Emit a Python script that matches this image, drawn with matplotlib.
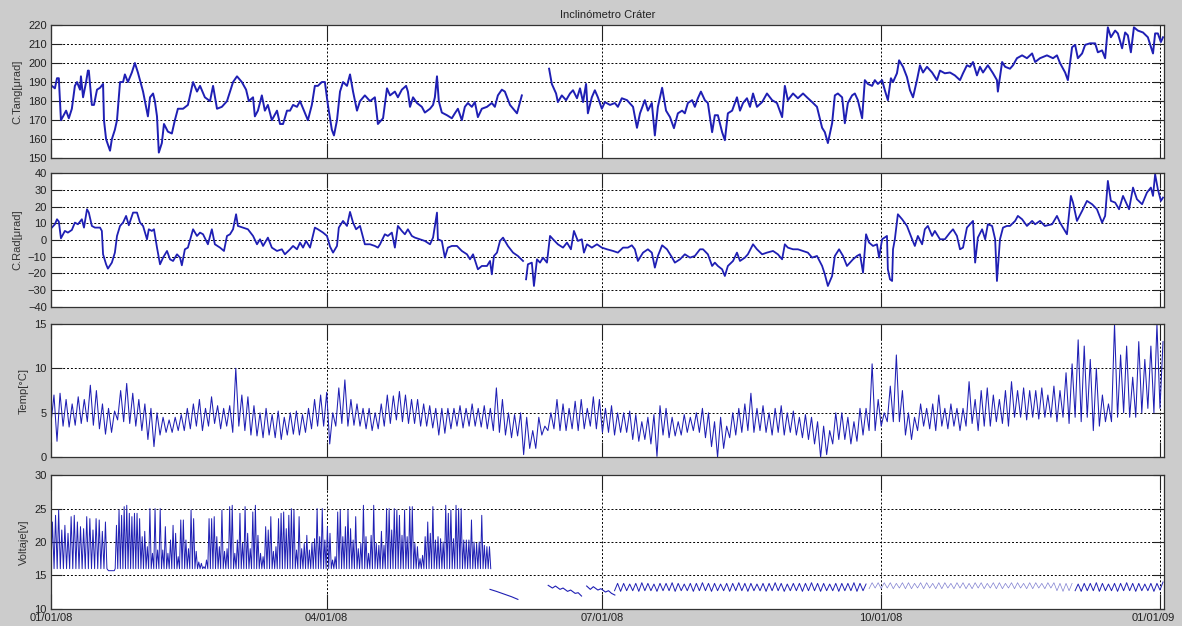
import numpy as np
import matplotlib.pyplot as plt
from matplotlib.transforms import ScaledTranslation

plt.rcParams['font.family'] = ['Liberation Sans', 'DejaVu Sans']

# ---------------------------------------------------------------
# Data (days since 01/01/08)
# ---------------------------------------------------------------
xtick_days = [0, 91, 182, 274, 366]
xtick_labels = ["01/01/08", "04/01/08", "07/01/08", "10/01/08", "01/01/09"]

# C.Tang [urad]
tang_day = [0.3, 1.3, 2, 2.6, 3.3, 4, 5, 5.9, 6.9, 7.9, 8.6, 9.6, 9.9, 10.6, 11.6, 12.2, 12.5, 13.5, 14.2, 15.2,
            16.2, 17.2, 17.5, 18.2, 19.5, 20.1, 21.1, 21.8, 22.8, 23.8, 24.4, 25.4, 26.7, 27.7, 28.7, 30.4, 32, 32.7,
            33.7, 34.3, 35, 35.6, 36.6, 37.3, 38.6, 39.9, 40.9, 41.9, 43.6, 45.2, 46.9, 48.2, 49.2, 50.8, 52.5, 53.5,
            54.8, 56.4, 58.1, 59.1, 60.1, 61.4, 63, 64.4, 65.3, 66.7, 67.3, 68.3, 69.6, 70.6, 71.6, 72.9, 74.6, 75.6,
            76.6, 77.9, 78.9, 79.9, 81.2, 82.2, 83.5, 84.8, 86.1, 87.1, 88.1, 89.4, 90.4, 91.4, 92.7, 93.4, 94.4, 95.4,
            96.4, 97.7, 98.7, 99.7, 101, 102, 103.6, 105.3, 106.9, 107.9, 109.6, 110.9, 111.9, 113.5, 114.5, 115.8,
            117.2, 117.8, 118.5, 119.5, 120.8, 122.4, 123.4, 125.1, 126.1, 126.7, 127.4, 128, 129, 130.7, 132.3, 133.3,
            134.3, 135.6, 136.6, 137.6, 138.9, 139.9, 140.9, 142.2, 143.9, 145.5, 146.5, 147.5, 148.8, 149.8, 151.5,
            153.1, 153.8, 155.4, 160.0,
            164.4, 165.3, 166.7, 167.3, 168.6, 170, 171.3, 172.3, 173.6, 174.6, 175.6, 176.6, 177.2, 178.5, 179.5,
            180.5, 181.8, 182.8, 184.5, 186.1, 187.1, 188.4, 190.1, 192.1, 193.4, 194.4, 196, 197, 198.3, 199.3, 200.3,
            201.7, 203, 204.3, 205.6, 206.9, 208.3, 209.2, 210.2, 211.6, 212.5, 213.5, 214.5, 215.8, 216.8, 218.2,
            219.1, 220.1, 221.5, 222.4, 223.4, 224.8, 226.4, 227.4, 228.4, 229.7, 230.7, 231.7, 233, 234.7, 236.3, 238,
            239.6, 241.3, 242.2, 243.2, 244.9, 246.5, 248.2, 249.5, 251.2, 252.8, 254.5, 255.4, 256.4, 257.8, 258.7,
            259.7, 261.1, 262, 263, 264.4, 265.3, 266.3, 267.7, 268.6, 269.6, 271, 271.9, 272.9, 274.3, 275.2, 276.2,
            277.2, 277.9, 279.2, 279.9, 281.2, 282.5, 283.5, 284.5, 285.8, 286.8, 287.8, 289.1, 290.8, 292.4, 293.4,
            295, 296.7, 298.3, 300, 301, 302.3, 303.3, 304.3, 305.6, 306.6, 307.6, 309.2, 310.9, 312.2, 312.5, 313.9,
            314.9, 316.5, 317.5, 318.8, 320.5, 322.1, 323.8, 324.8, 326.4, 328.7, 330.7, 332, 333, 334.7, 335.6, 337,
            338, 338.9, 340.3, 341.3, 342.9, 344.6, 345.5, 346.9, 347.9, 348.8, 349.8, 351.2, 352.1, 353.5, 354.5,
            355.4, 356.4, 357.4, 358.7, 360.4, 362, 363.7, 364.4, 365.3, 366.3, 367]
tang_val = [188, 186.7, 192, 192, 170, 172, 175, 171, 176, 188, 190, 186, 193, 182, 190, 196, 196, 178, 178, 186,
            187, 189, 170, 160, 154, 160, 165, 170, 190, 190, 194, 190, 195, 200, 195, 185, 172, 182,
            184, 180, 172, 153, 158, 168, 164, 163, 170, 176, 176, 178, 190, 185, 188, 182, 180, 188,
            176, 177, 180, 185, 190, 193, 190, 186, 180, 182, 172, 175, 183, 175, 178, 170, 175, 168,
            168, 175, 175, 178, 177, 180, 175, 170, 178, 188, 188, 190, 190, 178, 165, 162, 170, 185,
            190, 188, 194, 185, 175, 180, 183, 180, 182, 168, 171, 186.7, 183, 185, 182, 186,
            188, 185, 177, 182, 179, 177, 174, 176, 178, 182, 193, 180, 174, 172.6, 171, 173.6,
            176, 170, 177, 179, 177, 179.5, 171.6, 176, 177, 179, 177, 183, 186, 185, 178,
            175, 173.6, 183, np.nan,
            197, 189, 184, 179.5, 183, 180.5, 184, 185.7, 181.5, 186.7, 179.5, 189, 173.6, 182, 185.7,
            182, 176, 179.5, 178, 179, 177, 181.5, 180.5, 177, 166, 173.6, 180.5, 175, 179, 162, 177,
            187, 175, 171.6, 165.8, 173.6, 175, 173.6, 179, 180.5, 177, 181.5, 185, 180.5, 179, 163.7,
            172.6, 172.6, 163.7, 159.5, 173.6, 175, 182, 175, 179, 181.5, 177, 184, 177, 179.5, 184, 180.5,
            179, 171.6, 188, 180.5, 184, 181.5, 184, 182, 179.5, 177, 166, 163.7, 158, 168.4, 183,
            184, 182, 168.4, 179, 183, 184, 180.5, 171, 191, 189, 188, 191, 189, 191, 185.7, 180.5,
            192, 190, 194.6, 201.4, 198, 192.6, 185.7, 182, 191, 198.8, 195, 198, 195, 191, 196,
            194.6, 195, 193.5, 191, 194.6, 198.8, 198, 200.5, 193.5, 198, 195, 198.8, 194.6, 191, 185, 200.5,
            198, 197, 198.8, 202.5, 204, 202.5, 205, 200.5, 202.5, 204, 202.5, 204, 200, 195, 191, 208.3,
            209.5, 202.5, 205, 209.5, 210.3, 210.3, 205.6, 206.6, 202.5, 218.7, 213.5, 217, 215.5, 207.7, 216,
            214.5, 205.6, 218.7, 217, 216, 213.5, 205, 215.5, 215.5, 211, 213.5]

# C.Rad [urad]
rad_day = [0.3, 1.3, 2, 2.6, 3.3, 4, 4.6, 5.6, 6.9, 7.9, 8.9, 10.2, 10.9, 11.9, 12.5, 13.5, 14.5, 16.2, 16.8, 17.2,
           18.2, 18.8, 20.1, 21.1, 21.8, 22.8, 23.8, 24.8, 25.7, 27.1, 28.4, 29.4, 30.4, 31.7, 32.3, 33.3, 34, 35,
           36, 37, 38.3, 39.3, 40.3, 41.6, 42.6, 43.2, 44.2, 45.2, 46.9, 48.2, 49.2, 50.2, 51.8, 53.1, 54.1, 55.8,
           57.1, 58.1, 59.1, 60.1, 61.1, 61.7, 63.4, 65, 66.7, 68, 69, 70, 71.6, 72.9, 74.6, 76.2, 77.2, 78.9, 79.9,
           81.2, 82.2, 83.2, 84.2, 85.5, 87.1, 88.1, 89.8, 91.1, 92.1, 93.1, 94.4, 95, 96.4, 97.7, 98.7, 99.7, 100.7,
           102, 103.6, 105.3, 106.9, 107.9, 108.6, 110.2, 111.2, 112.5, 113.5, 114.5, 115.8, 116.8, 117.8, 119.1,
           120.1, 121.8, 123.4, 125.1, 126.1, 127.4, 127.7, 129, 130, 131, 132.3, 134, 135.6, 137.3, 138.3, 139.3,
           140.9, 142.2, 143.9, 144.9, 145.5, 146.2, 147.2, 148.2, 149.2, 150.8, 152.5, 154.1, 155.8, 156.3,
           156.8, 157.4, 158.7, 159.4, 160.4, 161.4, 162.4, 163.7, 164.7, 165.7, 167.3, 169, 170.3, 171.6, 172.6,
           173.9, 175.2, 175.9, 176.9, 178.5, 180.2, 181.8, 183.5, 185.5, 187.1, 188.8, 190.4, 191.7, 192.7, 193.7,
           195.4, 197, 198.3, 199.3, 200.3, 201.7, 203.3, 205, 205.9, 207.6, 209.2, 210.9, 212.5, 214.2, 215.2,
           216.8, 218.2, 219.1, 220.1, 221.5, 222.4, 223.4, 225.1, 226.4, 227.4, 229, 230, 231.7, 233, 234.7, 236.3,
           238.3, 239.9, 241.3, 242.2, 243.2, 244.9, 246.5, 248.2, 249.8, 251.2, 252.8, 254.5, 255.4, 256.4, 257.8,
           258.7, 260.1, 261.4, 262.7, 263.7, 264.7, 266, 267, 268, 269, 270, 271.3, 272.6, 273.3, 274.3, 275.9,
           276.2, 276.9, 277.6, 277.9, 278.5, 279.5, 280.9, 282.5, 284.2, 285.1, 286.1, 287.5, 288.4, 289.4, 290.8,
           291.7, 293.4, 295, 296.7, 297.7, 299, 300, 301, 302.3, 303.3, 304.3, 305, 305.9, 307.3, 308.3, 309.2,
           310.6, 311.6, 312.2, 313.2, 314.2, 315.5, 316.5, 318.2, 319.1, 320.5, 322.1, 323.8, 324.8, 326.4, 328,
           330.4, 332, 333, 334, 335.3, 336.6, 337.3, 338.6, 340.3, 341.9, 343.6, 345.2, 346.9, 347.9, 348.8, 349.8,
           351.2, 352.5, 353.8, 354.8, 355.8, 357.1, 358.4, 360.1, 361.7, 363, 363.7, 364.4, 365.3, 366.3, 367]
rad_val = [7.4, 9.4, 12.4, 11, 1, 3.4, 5.4, 4.4, 6, 10.4, 9.4, 12.4, 7.4, 18.4, 16.4, 8.4, 7.4, 7.4, 5.4, -8.6,
           -14.6, -17.2, -13.6, -7.6, 2.4, 8.4, 10.4, 14.4, 8.8, 16.4, 16.4, 10.4, 8.4, 0.4, 6.4, 5.4, 6.4, -4.6,
           -14.6, -10.6, -6.6, -11.6, -12.6, -8.6, -10.6, -15.2, -5.6, -4.6, 6.4, 2.4, 4.4, 3.4, -2.6, 6.4, -2.6, -4.6,
           -6.6, 2.4, 3.4, 6.4, 15.4, 8.4, 7.4, 6.4, 2.4, -2.6, 0.4, -3.6, 1.4, -4.6, -6.6, -5.6, -8.6, -5.6, -3.6,
           -5.6, -1.6, -4.6, -0.6, -4.6, 7.4, 6.4, 4.4, 2.4, -4, -7.6, -3.6, 7.4, 11.4, 8.4, 16.8, 10.4, 6.4,
           8.4, -2.6, -2.6, -3.6, -4.6, -2.6, 3.4, 2.4, 4.4, -4.6, 8.4, 5.4, 3.4, 6.4, 2.4,
           1.4, 0.4, -0.6, -2.6, 1.4, 16.4, 0.4, -0.6, -10.6, -4.6, -3.6, -3.6, -6.6, -8.6, -11.6, -8.6,
           -17.6, -15.6, -15.6, -12.6, -20.6, -9.6, -7.6, -0.6, 1.4, -3.6, -7.6, -9.6, -12.6, np.nan,
           -23.6, -14.6, -13.6, -27.6, -11.6, -13.6, -10.6, -13.6, 2.4, 0.4, -2.6, -4.6, -1.6, -5.6, 5.4,
           -0.6, 0.4, -7.6, -2.6, -4.6, -2.6, -4.6, -5.6, -6.6, -7.6, -4.6, -4.6, -3.2, -5.6, -12.6,
           -7.6, -5.6, -7.6, -16.6, -9.6, -3.2, -5.6, -10.6, -13.6, -11.6, -8.6, -10.6, -9.6, -5.6, -5.6,
           -8.6, -15.6, -13.6, -15.6, -17.6, -21.6, -15.6, -12.6, -7.6, -12.6, -10.6, -8.6, -2.6, -5.6, -8.6, -7.6,
           -6.6, -8.6, -11.6, -2.6, -4.6, -5.6, -5.6, -6.6, -7.6, -10.6, -9.6, -15.6, -20.6, -27.6, -21.6,
           -9.6, -5.6, -9.6, -15.6, -13.6, -11.6, -9.6, -8.6, -19.6, 3.4, -1.6, -3.6, -2.6, -10.6, 0.4, 2.4,
           -17.6, -23.6, -24.6, -5.6, 0.4, 15.4, 12.4, 8.4, 0.4, -3.6, 2.4, -2.6, 6.4, 8.4, 2.4,
           5.4, 0.4, 0.4, 4.4, 6.4, 2.4, -5.6, -4.6, 7.4, 9.4, 11.4, -13.6, 1.4, 6.4, 0.4, 9.4,
           8.4, 0.4, -24.6, 0.4, 7.4, 8.4, 8.4, 11.4, 14.4, 12.4, 8.4, 11.4, 9.4, 11.4, 8.4,
           9.4, 14.4, 10.4, 7.4, 3.4, 26.4, 22.4, 11.4, 17.4, 23.4, 21.4, 18.4, 10.4, 14.4, 35.4, 23.4,
           22.4, 18.4, 26.4, 22.4, 18.4, 31.4, 24.4, 21.4, 28.4, 31.4, 26.4, 39.4, 30.4, 23.4, 25.4]

# Temp [C]: low / high of the daily swing, every 2 days from day 0
temp_day = np.arange(0, 367, 2)
temp_hi = [7.0, 7.2, 6.5, 6.0, 6.8, 6.5, 8.1, 7.5, 6.0, 5.5, 5.2, 7.5, 8.3, 7.2, 6.5, 6.0, 5.5, 5.0, 4.5, 4.2,
           4.5, 4.8, 5.5, 6.0, 6.5, 5.5, 6.8, 5.8, 5.5, 5.8, 10.0, 7.0, 6.8, 5.8, 5.0, 5.5, 4.8, 5.2, 4.5, 5.0,
           5.2, 4.8, 5.5, 6.5, 7.0, 7.3, 5.0, 7.8, 8.7, 6.5, 6.0, 5.5, 5.5, 5.0, 6.0, 7.0, 6.9, 7.4, 7.0, 6.5,
           6.5, 6.0, 5.8, 5.5, 5.5, 5.5, 5.5, 5.8, 5.5, 6.0, 5.5, 5.8, 5.5, 7.8, 6.5, 5.0, 4.8, 5.0, 4.5, 3.0,
           4.5, 3.5, 5.0, 6.5, 6.0, 5.5, 6.3, 6.5, 5.5, 6.8, 6.5, 5.5, 5.8, 5.0, 5.0, 5.2, 4.8, 4.0, 4.5, 4.8,
           5.8, 5.5, 4.5, 4.0, 4.8, 4.5, 5.0, 5.5, 5.0, 4.0, 4.5, 3.5, 5.0, 5.5, 6.0, 7.2, 5.5, 5.8, 5.0, 5.5,
           5.8, 5.0, 5.2, 4.5, 4.8, 4.5, 4.0, 3.5, 3.0, 5.0, 5.0, 4.5, 4.0, 5.5, 5.5, 10.5, 6.5, 5.0, 8.0, 11.5,
           7.5, 5.0, 4.5, 6.0, 5.5, 6.0, 7.0, 5.5, 6.0, 5.5, 5.5, 8.5, 6.5, 7.5, 7.8, 7.0, 6.5, 7.5, 8.5, 7.5,
           7.8, 7.5, 7.5, 7.8, 7.0, 8.0, 7.5, 9.5, 10.5, 13.2, 12.5, 11.0, 10.0, 7.0, 6.0, 15.0, 11.5, 12.5, 9.0,
           13.0, 11.0, 12.5, 15.0, 13.0]
temp_lo = [3.8, 1.8, 3.5, 3.4, 3.6, 3.8, 4.0, 3.6, 3.2, 2.6, 2.8, 4.2, 4.0, 3.8, 3.5, 3.0, 2.0, 1.2, 2.5, 2.8,
           2.8, 3.0, 3.0, 3.2, 3.5, 3.0, 3.5, 3.8, 3.2, 3.5, 2.8, 3.5, 3.0, 2.5, 2.4, 2.2, 2.5, 2.2, 2.0, 2.5,
           2.6, 2.5, 2.8, 3.2, 3.5, 3.5, 1.5, 3.5, 3.8, 3.5, 3.6, 3.5, 3.2, 3.0, 3.2, 3.5, 3.8, 4.2, 4.0, 3.8,
           3.8, 3.5, 3.5, 3.3, 2.5, 2.7, 3.2, 3.5, 3.3, 3.5, 3.5, 3.4, 3.2, 3.0, 2.8, 2.5, 2.2, 2.4, 0.3, 1.0,
           1.0, 2.5, 3.0, 3.2, 3.0, 3.0, 3.2, 3.0, 3.2, 3.5, 3.2, 2.8, 2.8, 2.5, 2.8, 2.8, 2.0, 1.8, 2.0, 1.5,
           0.1, 2.5, 2.2, 2.4, 2.5, 2.8, 3.0, 2.8, 2.2, 1.2, 0.0, 1.0, 2.2, 2.5, 2.8, 3.0, 2.8, 3.0, 2.8, 2.5,
           2.8, 2.5, 2.8, 2.5, 2.2, 2.0, 1.5, 0.0, 0.3, 1.5, 2.0, 2.0, 1.5, 1.8, 2.5, 3.0, 3.0, 3.5, 4.0, 4.0,
           4.0, 2.5, 2.0, 3.0, 3.5, 3.2, 3.0, 3.5, 3.2, 3.5, 3.0, 3.5, 3.8, 3.0, 3.5, 3.5, 4.0, 3.8, 3.5, 4.5,
           4.5, 4.2, 4.5, 4.3, 4.5, 4.5, 4.0, 4.5, 3.8, 4.5, 4.0, 4.5, 3.0, 3.5, 4.0, 4.0, 4.5, 5.0, 4.5,
           4.5, 5.0, 5.5, 5.0, 5.5]

# Voltaje [v]: daily charge peaks over a ~16 V floor (Jan - May)
volt_floor = 16.0
volt_gap_level = 15.7
volt_peak_a = [23, 24, 24.8, 21.8, 22.5, 21.3, 23.8, 24, 23, 22.3, 22, 23.8, 23.5, 21.8, 23.5, 23.3, 21.6, 23]
volt_peak_b = [22.5, 24.8, 24, 25.3, 25.5, 24.3, 23.8, 24.3, 24.3, 23.5,
               20.8, 21.6, 19.3, 25, 18.3, 25, 18.8, 25, 18.8, 22.3,
               18.3, 20.3, 22.5, 21.3, 17.8, 23.3, 23.3, 20.3, 19, 24.8,
               23.5, 18.6, 17, 16.8, 16.3, 17.3, 23.5, 23.5, 23.8, 20.8,
               19.3, 24.8, 18.6, 19, 25.3, 25.5, 18.3, 20.3, 24.3, 19.8,
               25.3, 21.3, 19, 24.5, 25.5, 21, 18.3, 17.8, 22.3, 21.8,
               23.8, 18.6, 19.3, 23.5, 24.3, 24.5, 22, 24, 25, 24.8,
               18.8, 23.8, 19, 19.8, 21, 18.8, 19.9, 20.5, 25, 20.8,
               25, 20.3, 22.3, 21.3, 17.3, 17.8, 24.5, 24.8, 20.8, 22.3,
               24.8, 22, 20.3, 23.8, 19, 19.8, 25.5, 20.8, 18.3, 21,
               25.5, 19.8, 19.5, 21.6, 19.5, 25,
               25, 21.8, 25, 24.8, 24, 21, 24.8, 20.8, 25.3, 25.3,
               19.8, 19.3, 17.5, 18, 20.8, 23, 21.3, 25.3, 20.3, 20.8,
               20.5, 20, 25.5, 24.3, 24.8, 20.5, 25.5, 25, 25, 20.3,
               20.3, 20.3, 23.3, 20, 19.8, 20, 24, 19.5, 19.3, 19.3]
volt_a_span = (0.0, 17.5)
volt_b_span = (21.2, 144.3)

# Voltaje: short discharge runs (Jun)
drop1_day = [144.9, 147.0, 149.5, 152.0, 154.1]
drop1_val = [12.9, 12.6, 12.2, 11.8, 11.4]
drop2_day = [164.1, 165.5, 166.5, 168.0, 169.0, 170.5, 171.5, 173.0, 174.0, 175.1]
drop2_val = [13.5, 13.1, 13.4, 12.9, 13.1, 12.6, 12.8, 12.3, 12.4, 11.9]
drop3_day = [176.8, 178.0, 179.0, 180.5, 181.5, 183.0, 184.0, 185.0, 186.1]
drop3_val = [13.4, 12.9, 13.3, 12.8, 13.0, 12.5, 12.7, 12.3, 12.05]

# Voltaje: float-charge swing, every 2 days from day 186
volt_c_day = np.arange(186, 367, 2)
volt_c_hi = [13.8, 13.8, 13.7, 13.8, 13.9, 13.8, 13.7, 13.8, 13.8, 13.9, 13.8, 13.7, 13.8, 13.8, 13.9,
             13.8, 13.8, 13.7, 13.8, 13.8, 13.9, 13.8, 13.8, 13.7, 13.8, 13.8, 13.9, 13.8, 13.7, 13.8,
             13.8, 13.8, 13.9, 13.8, 13.8, 13.7, 13.8, 13.8, 13.8, 13.9, 13.8, 13.7, 13.9, 13.9, 13.9,
             13.9, 13.8, 13.9, 13.9, 13.8, 13.9, 13.9, 13.8, 13.9, 13.9, 13.8, 13.9, 13.9, 13.8, 13.9,
             13.9, 13.8, 13.9, 13.9, 13.8, 13.9, 13.9, 13.8, 13.9, 13.9, 13.8, 13.9, 13.9, 13.8, 13.8,
             13.8, 13.7, 13.8, 13.8, 13.9, 13.8, 13.7, 13.8, 13.8, 13.9, 13.8, 13.8, 13.7, 13.8, 13.8, 14.0]
volt_c_lo = [12.7, 12.6, 12.7, 12.7, 12.6, 12.7, 12.7, 12.6, 12.7, 12.7, 12.6, 12.7, 12.7, 12.6, 12.7,
             12.7, 12.6, 12.7, 12.7, 12.6, 12.7, 12.7, 12.6, 12.7, 12.7, 12.6, 12.7, 12.7, 12.6, 12.7,
             12.7, 12.6, 12.7, 12.7, 12.6, 12.7, 12.7, 12.6, 12.7, 12.7, 12.6, 12.7, 13.0, 13.1, 13.0,
             13.1, 13.0, 13.1, 13.0, 13.0, 13.1, 13.0, 13.1, 13.0, 13.0, 13.1, 13.0, 13.1, 13.0, 13.0,
             13.1, 13.0, 13.1, 13.0, 13.0, 13.1, 13.0, 13.1, 13.0, 13.0, 13.1, 13.0, 13.1, 12.7, 12.6,
             12.7, 12.7, 12.6, 12.7, 12.7, 12.6, 12.7, 12.7, 12.6, 12.7, 12.7, 12.6, 12.7, 12.7, 12.6, 12.8]
volt_c_faint = (270, 337)


def swing(days, lo, hi, step):
    # alternate low/high readings along the time axis
    days = np.asarray(days, float)
    x = np.column_stack([days, days + step / 2]).ravel()
    y = np.column_stack([np.asarray(lo, float), np.asarray(hi, float)]).ravel()
    return x, y


def spikes(span, peaks, floor):
    d = np.linspace(span[0], span[1], len(peaks))
    step = (span[1] - span[0]) / len(peaks)
    x, y = swing(d, np.full(len(peaks), floor), peaks, step)
    return np.append(x, d[-1] + step), np.append(y, floor)


# ---------------------------------------------------------------
# Figure
# ---------------------------------------------------------------
blue = '#1f1fb4'
fig = plt.figure(figsize=(11.82, 6.26), dpi=100, facecolor='#cccccc')
left, width, h = 0.0431, 0.9416, 0.2132
bottoms = [0.7471, 0.5101, 0.2695, 0.0276]
axes = [fig.add_axes([left, b, width, h]) for b in bottoms]


def style(ax, ylim, yticks, label):
    ax.set_facecolor('white')
    ax.set_xlim(0, 367.3)
    ax.set_ylim(*ylim)
    ax.set_yticks(yticks)
    ax.set_xticks(xtick_days)
    ax.set_axisbelow(True)
    ax.grid(True, linestyle=(0, (2, 2)), color='black', linewidth=0.7)
    ax.tick_params(direction='in', top=True, right=True, labelsize=8, width=0.8, colors='#222222')
    ax.tick_params(axis='x', length=11, pad=3)
    ax.tick_params(axis='y', length=8, pad=3)
    for s in ax.spines.values():
        s.set_color('#333333')
        s.set_linewidth(0.9)
    ax.set_ylabel(label, fontsize=8, color='#333333', labelpad=4)
    ax.set_xticklabels([])


# 1. C.Tang
ax = axes[0]
ax.plot(tang_day, tang_val, color=blue, linewidth=1.4)
style(ax, (150, 220), range(150, 221, 10), 'C.Tang[μrad]')
ax.set_title('Inclinómetro Cráter', fontsize=8, color='#222222', pad=5)

# 2. C.Rad
ax = axes[1]
ax.plot(rad_day, rad_val, color=blue, linewidth=1.3)
style(ax, (-40, 40), range(-40, 41, 10), 'C.Rad[μrad]')

# 3. Temp
ax = axes[2]
tx, ty = swing(temp_day, temp_lo, temp_hi, 2)
ax.plot(tx, ty, color=blue, linewidth=0.75)
style(ax, (0, 15), [0, 5, 10, 15], 'Temp[°C]')

# 4. Voltaje
ax = axes[3]
ax_, ay_ = spikes(volt_a_span, volt_peak_a, volt_floor)
bx_, by_ = spikes(volt_b_span, volt_peak_b, volt_floor)
vx = np.concatenate([ax_, [ax_[-1] + 0.5, volt_b_span[0] - 0.3], bx_])
vy = np.concatenate([ay_, [volt_gap_level, volt_gap_level], by_])
ax.plot(vx, vy, color=blue, linewidth=0.7)
for dd, vv in ((drop1_day, drop1_val), (drop2_day, drop2_val), (drop3_day, drop3_val)):
    ax.plot(dd, vv, color=blue, linewidth=0.8)
cx, cy = swing(volt_c_day, volt_c_lo, volt_c_hi, 2)
faint = (cx >= volt_c_faint[0]) & (cx <= volt_c_faint[1])
ax.plot(np.where(faint, np.nan, cx), cy, color=blue, linewidth=0.7)
ax.plot(np.where(faint, cx, np.nan), cy, color='#8080d0', linewidth=0.5)
style(ax, (10, 30), [10, 15, 20, 25, 30], 'Voltaje[v]')
ax.set_xticklabels(xtick_labels)
last = ax.get_xticklabels()[-1]
last.set_transform(last.get_transform() + ScaledTranslation(-0.07, 0, fig.dpi_scale_trans))

fig.savefig('out.png', dpi=100, facecolor=fig.get_facecolor())
